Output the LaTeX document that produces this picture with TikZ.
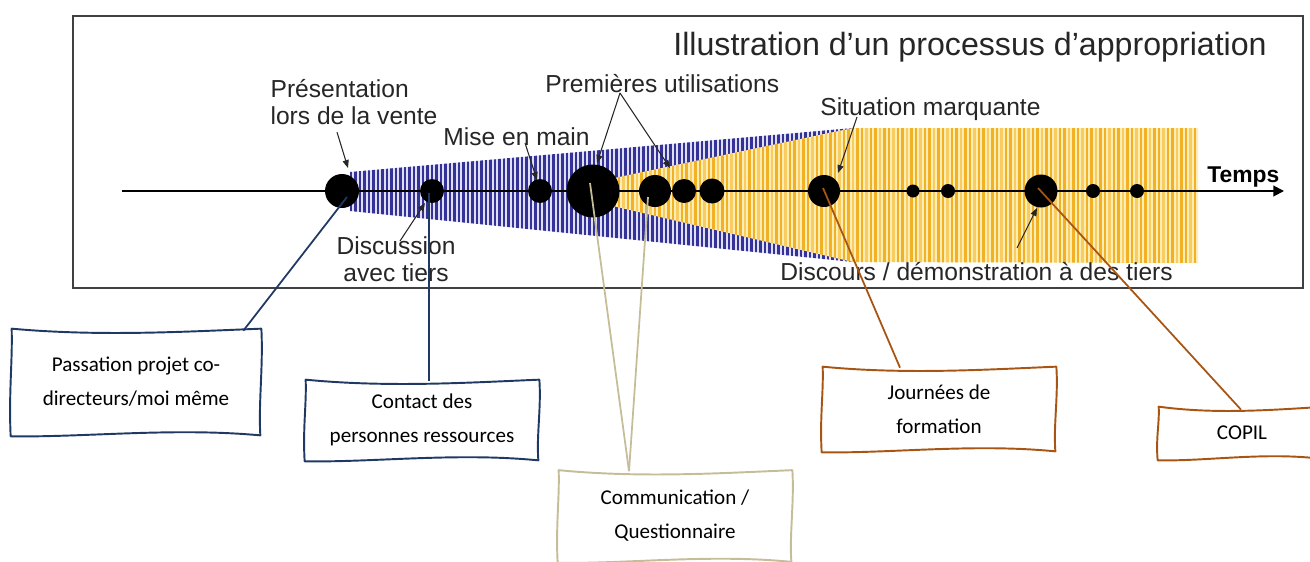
\documentclass[tikz,border=0pt]{standalone}
\usepackage{fontspec}
\setmainfont{Liberation Sans}
\newfontfamily\calibri{Carlito}
\usetikzlibrary{calc,arrows.meta}
\definecolor{navyline}{RGB}{31,56,100}
\definecolor{tanline}{RGB}{196,189,151}
\definecolor{brownline}{RGB}{168,84,18}
\definecolor{stripeblue}{RGB}{52,50,150}
\definecolor{paleblue}{RGB}{222,222,244}
\definecolor{stripegold}{RGB}{242,176,36}
\definecolor{lightgold}{RGB}{248,204,96}
\definecolor{palegold}{RGB}{254,238,180}
\tikzset{
    dot/.style={circle, fill=black, inner sep=0pt, minimum size=#1*0.02cm},
    lbl/.style={text=black!85, font=\fontsize{14}{15.5}\selectfont, inner sep=0pt},
    lblarrow/.style={-{Triangle[length=4.5pt,width=3.5pt]}, black!85, line width=0.6pt},
    boxtext/.style={font=\calibri\fontsize{12}{19.3}\selectfont, align=center, inner sep=0pt},
    boxsize/.style 2 args={minimum width=#1*0.02cm, minimum height=#2*0.02cm},
    link/.style={line width=1pt},
}
\newcommand\wavyframe[2]{%
  \draw[#2, line width=1.1pt, line join=round]
    ($(#1.north west)+(0,-1)$)
    .. controls ($(#1.north west)!0.35!(#1.north east)+(0,7)$) and ($(#1.north west)!0.7!(#1.north east)+(0,2)$) .. ($(#1.north east)+(1,-1)$)
    .. controls ($(#1.north east)!0.35!(#1.south east)+(3,0)$) and ($(#1.north east)!0.7!(#1.south east)+(-2,0)$) .. ($(#1.south east)+(0,1)$)
    .. controls ($(#1.south east)!0.35!(#1.south west)+(0,-7)$) and ($(#1.south east)!0.7!(#1.south west)+(0,3)$) .. ($(#1.south west)+(-1,2)$)
    .. controls ($(#1.south west)!0.4!(#1.north west)+(-3,0)$) and ($(#1.south west)!0.7!(#1.north west)+(1,0)$) .. ($(#1.north west)+(0,-1)$) -- cycle;}

\begin{document}
\begin{tikzpicture}[x=0.02cm, y=-0.02cm]
\useasboundingbox (0,0) rectangle (1310,561);
\begin{scope}
\clip (350,172) -- (853,128) -- (853,262) -- (350,211) -- cycle;
\fill[paleblue] (340,120) rectangle (860,270);
\foreach \x in {351,355.5,...,853} \draw[stripeblue, line width=1.25pt] (\x,120) -- (\x,270);
\end{scope}
\begin{scope}
\clip (600,181) -- (853,128) -- (1198,128) -- (1198,263) -- (853,262) -- (600,203) -- cycle;
\fill[palegold] (595,120) rectangle (1200,270);
\foreach \x [count=\i] in {601,605.5,...,1198} {
  \pgfmathsetmacro\gold{ifthenelse(mod(\i,3)==0,"lightgold","stripegold")}
  \draw[\gold, line width=1.5pt] (\x,120) -- (\x,270);
}
\end{scope}
\draw[black!75, line width=1.3pt] (73,16) rectangle (1303,288);
\node[text=black!85, font=\fontsize{18.3}{20}\selectfont, inner sep=0pt, anchor=base west] (title) at (673,55) {Illustration d’un processus d’appropriation};
\coordinate (t0) at (122,191);
\coordinate (t1) at (1284,191);
\draw[line width=1.1pt, -{Triangle[length=6pt,width=6pt]}] (t0) -- (t1);
\node[font=\bfseries\fontsize{13}{15}\selectfont, inner sep=0pt, anchor=base west] (temps) at (1207,182) {Temps};
\foreach \n/\x/\d in {p1/342/34, p2/432/24, p3/540/24, p4/593/53, p5/655/32, p6/684/24, p7/712/25, p8/824/32, p9/913/13, p10/948/14, p11/1041/33, p12/1093/14, p13/1137/14}
  \node[dot=\d] (\n) at (\x,191) {};
\node[lbl, align=left] (lab1) at (354,102) {Présentation\\lors de la vente};
\node[lbl, align=center] (lab2) at (396,259) {Discussion\\avec tiers};
\node[lbl, anchor=base west] (lab3) at (443,145) {Mise en main};
\node[lbl, anchor=base west] (lab4) at (545,92) {Premières utilisations};
\node[lbl, anchor=base west] (lab8) at (820,115) {Situation marquante};
\node[lbl, anchor=base west] (lab9) at (780,280) {Discours / démonstration à des tiers};
\draw[lblarrow] ($(lab1.south)+(-17,7)$) -- ($(p1.center)+(6,-23)$);
\draw[lblarrow] ($(lab2.north)+(4,5)$) -- ($(p2.center)+(-7,12)$);
\draw[lblarrow] ($(lab3.base west)+(82,-2)$) -- ($(p3.center)+(-3,-11)$);
\draw[lblarrow] ($(lab4.base west)+(75,1)$) -- ($(p4.center)+(4,-28)$);
\draw[lblarrow] ($(lab4.base west)+(75,1)$) -- ($(p5.center)+(15,-23)$);
\draw[lblarrow] ($(lab8.base west)+(37,2)$) -- ($(p8.center)+(14,-18)$);
\draw[lblarrow] ($(lab9.base west)+(237,-32)$) -- ($(p11.center)+(-4,17)$);
\node[boxtext, boxsize={248}{104}] (pass) at (136,382) {Passation projet co-\\directeurs/moi même};
\node[boxtext, boxsize={232}{78}] (contact) at (422,420) {Contact des\\personnes ressources};
\node[boxtext, boxsize={232}{89}] (comm) at (675,516) {Communication /\\Questionnaire};
\node[boxtext, boxsize={232}{82}] (journ) at (939,409) {Journées de\\formation};
\node[boxtext, boxsize={166}{50}] (copil) at (1242,433) {COPIL};
\wavyframe{pass}{navyline}
\wavyframe{contact}{navyline}
\wavyframe{comm}{tanline}
\wavyframe{journ}{brownline}
\wavyframe{copil}{brownline}
\draw[link, navyline] ($(pass.north east)+(-17,1)$) -- ($(p1.center)+(5,6)$);
\draw[link, navyline] ($(contact.north)+(7,0)$) -- ($(p2.center)+(-3,2)$);
\draw[link, tanline] ($(comm.north)+(-46,0)$) -- ($(p4.center)+(-3,-8)$);
\draw[link, tanline] ($(comm.north)+(-46,0)$) -- ($(p5.center)+(-7,6)$);
\draw[link, brownline] ($(journ.north)+(-39,0)$) -- ($(p8.center)+(-1,-3)$);
\draw[link, brownline] ($(copil.north)+(-1,2)$) -- ($(p11.center)+(-3,-3)$);
\end{tikzpicture}
\end{document}
